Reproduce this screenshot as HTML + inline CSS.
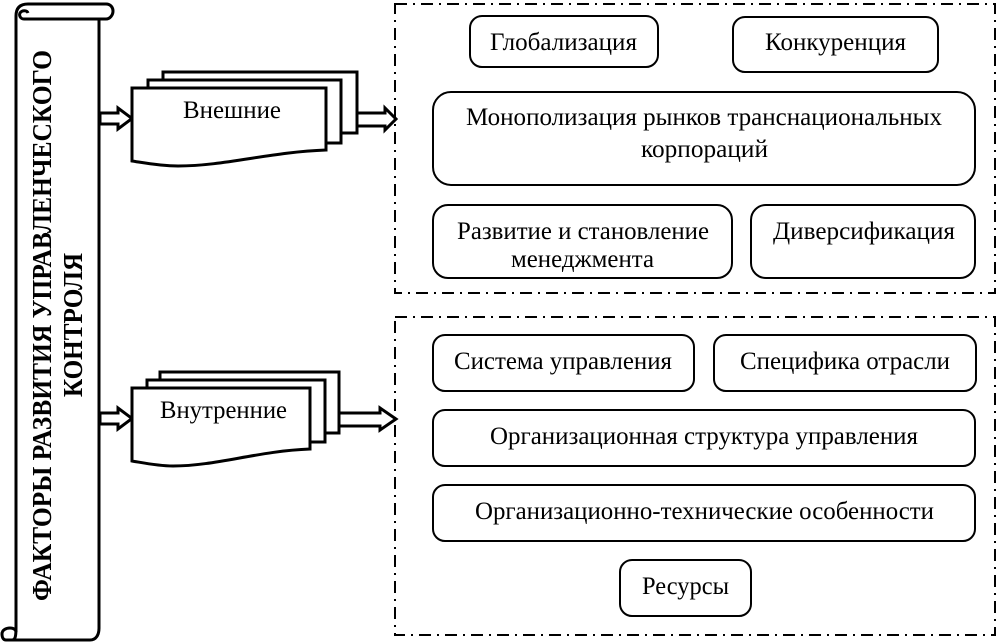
<!DOCTYPE html>
<html><head><meta charset="utf-8"><style>
html,body{margin:0;padding:0;background:#fff}
svg{display:block}
text{font-family:"Liberation Serif","Noto Serif CJK SC",serif;font-size:25px;fill:#000}
.b{font-weight:bold;font-size:27px}
.s{fill:#fff;stroke:#000;stroke-width:3}
.n{fill:none;stroke:#000;stroke-width:3}
.r{fill:#fff;stroke:#000;stroke-width:2}
.d{fill:none;stroke:#000;stroke-width:2;stroke-dasharray:12 6 2 6}
</style></head><body>
<svg width="996" height="643" viewBox="0 0 996 643" xmlns="http://www.w3.org/2000/svg">
<rect width="996" height="643" fill="#fff"/>
<!-- scroll -->
<path class="n" d="M16 628V16C16 8 20 4 28 4H106C111 4 113 8 113 11C113 15 110 19 106 19H24C20 19 19 15 20 13C22 10 27 10 28 13"/>
<path class="n" d="M99 19V628C99 635 96 640 90 640H6C3 640 2 637 2 634C2 630 6 628 10 628C14 628 16 630 16 632"/>
<path class="n" d="M6 640H12C15 640 16 637 16 628"/>
<text class="b" transform="translate(51 601) rotate(-90)" textLength="551" lengthAdjust="spacingAndGlyphs">ФАКТОРЫ РАЗВИТИЯ УПРАВЛЕНЧЕСКОГО</text>
<text class="b" transform="translate(82 397) rotate(-90)" textLength="144" lengthAdjust="spacingAndGlyphs">КОНТРОЛЯ</text>
<!-- top arrows -->
<path class="s" d="M100 113H118V108L132 118.500L118 129V124H100Z"/>
<path class="s" d="M357 113H385V108L396 119L385 130V126H357Z"/>
<!-- top docs -->
<path class="s" d="M163 80V72H357V133H341"/>
<path class="s" d="M148 88V80H341V143H326"/>
<path class="s" d="M132 88H326V150C270 152 225 166 178 166C160 166 145 163 132 161Z"/>
<text x="183" y="118" textLength="98" lengthAdjust="spacingAndGlyphs">Внешние</text>
<!-- bottom arrows -->
<path class="s" d="M100 413H118V408L132 418.500L118 429V424H100Z"/>
<path class="s" d="M339 413H380V408L396 419L380 430V426H339Z"/>
<!-- bottom docs -->
<path class="s" d="M160 380V372H339V433H325"/>
<path class="s" d="M147 388V380H325V442H310"/>
<path class="s" d="M132 388H310V449C258 451 216 466 173 466C158 466 144 463 132 461Z"/>
<text x="160" y="418" textLength="127" lengthAdjust="spacingAndGlyphs">Внутренние</text>
<!-- dashed groups -->
<rect class="d" x="395" y="4" width="600" height="289"/>
<rect class="d" x="395" y="317" width="600" height="318"/>
<!-- top group -->
<rect class="r" x="470" y="16" width="188" height="51" rx="12"/>
<text x="490" y="50" textLength="147" lengthAdjust="spacingAndGlyphs">Глобализация</text>
<rect class="r" x="733" y="17" width="205" height="55" rx="12"/>
<text x="765" y="50" textLength="141" lengthAdjust="spacingAndGlyphs">Конкуренция</text>
<rect class="r" x="433" y="92" width="542" height="93" rx="18"/>
<text x="466" y="125" textLength="476" lengthAdjust="spacingAndGlyphs">Монополизация рынков транснациональных</text>
<text x="641" y="157" textLength="127" lengthAdjust="spacingAndGlyphs">корпораций</text>
<rect class="r" x="433" y="205" width="299" height="73" rx="15"/>
<text x="457" y="239" textLength="252" lengthAdjust="spacingAndGlyphs">Развитие и становление</text>
<text x="511" y="267" textLength="143" lengthAdjust="spacingAndGlyphs">менеджмента</text>
<rect class="r" x="751" y="205" width="224" height="73" rx="15"/>
<text x="773" y="239" textLength="182" lengthAdjust="spacingAndGlyphs">Диверсификация</text>
<!-- bottom group -->
<rect class="r" x="433" y="335" width="261" height="56" rx="12"/>
<text x="454" y="369" textLength="218" lengthAdjust="spacingAndGlyphs">Система управления</text>
<rect class="r" x="714" y="335" width="262" height="56" rx="12"/>
<text x="740" y="369" textLength="210" lengthAdjust="spacingAndGlyphs">Специфика отрасли</text>
<rect class="r" x="433" y="410" width="542" height="56" rx="12"/>
<text x="490" y="444" textLength="428" lengthAdjust="spacingAndGlyphs">Организационная структура управления</text>
<rect class="r" x="433" y="485" width="542" height="56" rx="12"/>
<text x="475" y="519" textLength="459" lengthAdjust="spacingAndGlyphs">Организационно-технические особенности</text>
<rect class="r" x="620" y="560" width="131" height="56" rx="12"/>
<text x="642" y="594" textLength="87" lengthAdjust="spacingAndGlyphs">Ресурсы</text>
</svg>
</body></html>
